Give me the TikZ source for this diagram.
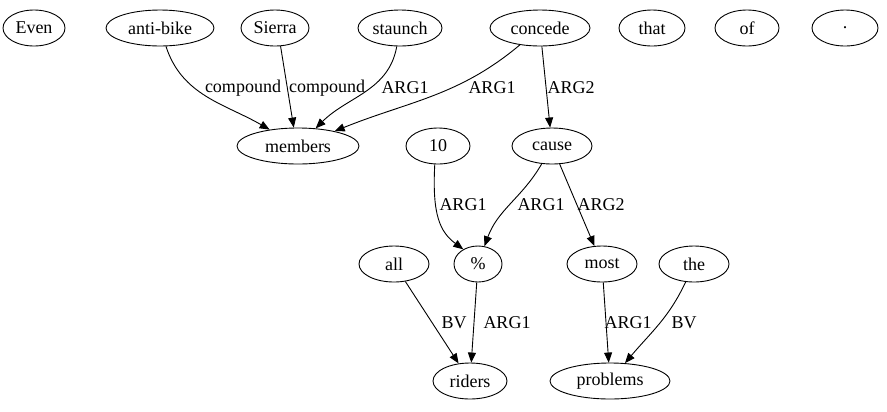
\documentclass[tikz,border=0pt]{standalone}
\usepackage{fontspec}
\setmainfont{Liberation Serif}
\usetikzlibrary{arrows.meta,shapes.geometric}
\begin{document}
\begin{tikzpicture}[x=1bp,y=-1bp, line width=0.9bp,
  nd/.style={draw, ellipse, minimum height=36bp, inner sep=0pt, font=\fontsize{18bp}{20bp}\selectfont},
  lbl/.style={font=\fontsize{18bp}{20bp}\selectfont, inner sep=0pt},
  arr/.style={draw, -{Triangle[length=10bp,width=8bp]}}]
\useasboundingbox (0,0) rectangle (887,411);
\node[nd, minimum width=62bp] (even) at (34,28) {Even};
\node[nd, minimum width=108bp] (anti) at (160,28) {anti-bike};
\node[nd, minimum width=68bp] (sierra) at (275,28) {Sierra};
\node[nd, minimum width=84bp] (staunch) at (400,28) {staunch};
\node[nd, minimum width=100bp] (concede) at (540,28) {concede};
\node[nd, minimum width=66bp] (that) at (652,28) {that};
\node[nd, minimum width=64bp] (of) at (747,28) {of};
\node[nd, minimum width=66bp] (dot) at (845,28) {.};
\node[nd, minimum width=122bp] (members) at (298,146) {members};
\node[nd, minimum width=64bp] (ten) at (438,146) {10};
\node[nd, minimum width=80bp] (cause) at (552,146) {cause};
\node[nd, minimum width=70bp] (all) at (394,264) {all};
\node[nd, minimum width=48bp] (pct) at (478,264) {\%};
\node[nd, minimum width=70bp] (most) at (602,264) {most};
\node[nd, minimum width=70bp] (the) at (694,264) {the};
\node[nd, minimum width=74bp] (riders) at (470,381) {riders};
\node[nd, minimum width=120bp] (problems) at (610,381) {problems};

\path[arr] (anti) to[out=-72, in=150] (members);
\path[arr] (sierra.-73) -- (members.103);
\path[arr] (staunch) to[out=-100, in=45] (members);
\path[arr] (concede) to[out=-140, in=22] (members);
\path[arr] (concede) -- (cause);
\path[arr] (ten.-100) .. controls (432,215) and (440,232) .. (pct.135);
\path[arr] (cause) to[out=-120, in=70] (pct);
\path[arr] (cause) -- (most);
\path[arr] (all) -- (riders);
\path[arr] (pct) -- (riders);
\path[arr] (most) -- (problems);
\path[arr] (the) to[out=-115, in=50] (problems);

\node[lbl] at (243,88) {compound};
\node[lbl] at (327,88) {compound};
\node[lbl] at (405,88) {ARG1};
\node[lbl] at (492,88) {ARG1};
\node[lbl] at (571,88) {ARG2};
\node[lbl] at (463,205) {ARG1};
\node[lbl] at (541,205) {ARG1};
\node[lbl] at (601,205) {ARG2};
\node[lbl] at (454,323) {BV};
\node[lbl] at (507,323) {ARG1};
\node[lbl] at (628,323) {ARG1};
\node[lbl] at (684,323) {BV};
\end{tikzpicture}
\end{document}
